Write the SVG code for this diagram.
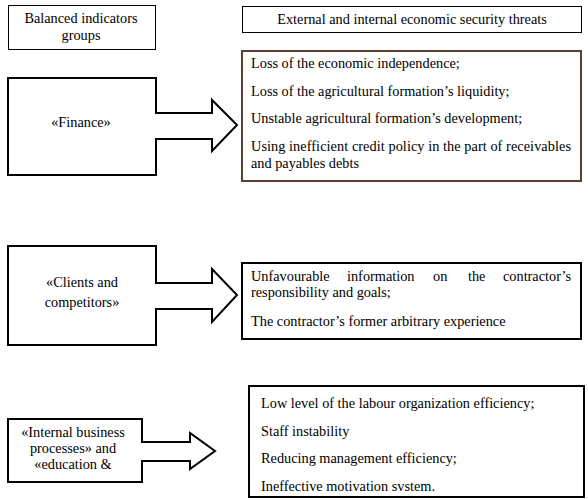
<svg xmlns="http://www.w3.org/2000/svg" width="588" height="500" viewBox="0 0 588 500">
<style>
text{font-family:"Liberation Serif","Times New Roman",serif;font-size:14.3px;fill:#000}
.c{text-anchor:middle}
.e{text-anchor:end}
.thin{fill:#fff;stroke:#000;stroke-width:1}
.thick{fill:#fff;stroke:#000;stroke-width:2}
.arrow{fill:#fff;stroke:#000;stroke-width:2;stroke-linejoin:miter}
</style>
<rect width="588" height="500" fill="#fff"/>
<g id="header-left">
<rect class="thin" x="8.5" y="5.5" width="147" height="44"/>
<text class="c" x="81" y="23">Balanced indicators</text>
<text class="c" x="81" y="40">groups</text>
</g>
<g id="header-right">
<rect class="thin" x="242.5" y="6.5" width="339" height="26"/>
<text class="c" x="412" y="24">External and internal economic security threats</text>
</g>
<g id="finance">
<polygon class="arrow" points="8,78 156,78 156,113 212,113 212,100 237,125 212,151 212,139 156,139 156,175 8,175"/>
<text class="c" x="81" y="127">«Finance»</text>
</g>
<g id="finance-threats">
<rect x="242" y="51" width="339" height="130" fill="#fff" stroke="#5c4033" stroke-width="2"/>
<text x="251" y="68">Loss of the economic independence;</text>
<text x="251" y="96">Loss of the agricultural formation’s liquidity;</text>
<text x="251" y="123">Unstable agricultural formation’s development;</text>
<text x="251" y="151" textLength="320" lengthAdjust="spacing">Using inefficient credit policy in the part of receivables</text>
<text x="251" y="168">and payables debts</text>
</g>
<g id="clients">
<polygon class="arrow" points="8,246 156,246 156,283 212,283 212,269 237,295 212,322 212,309 156,309 156,345 8,345"/>
<text class="c" x="82" y="287">«Clients and</text>
<text class="c" x="82" y="307">competitors»</text>
</g>
<g id="clients-threats">
<rect class="thick" x="242" y="263" width="339" height="76"/>
<text y="281" x="251">Unfavourable</text>
<text y="281" x="347">information</text>
<text y="281" x="433">on</text>
<text y="281" x="468">the</text>
<text y="281" x="571" class="e">contractor’s</text>
<text x="251" y="297">responsibility and goals;</text>
<text x="251" y="326">The contractor’s former arbitrary experience</text>
</g>
<g id="internal">
<polygon class="arrow" points="8,419 142,419 142,442 190,442 190,433 215,451 190,469 190,461 142,461 142,482 8,482"/>
<text class="c" x="73" y="437">«Internal business</text>
<text class="c" x="73" y="453">processes» and</text>
<text class="c" x="73" y="469">«education &amp;</text>
</g>
<g id="internal-threats">
<rect class="thick" x="249" y="386" width="335" height="111"/>
<text x="261" y="408">Low level of the labour organization efficiency;</text>
<text x="261" y="436">Staff instability</text>
<text x="261" y="463">Reducing management efficiency;</text>
<text x="261" y="491">Ineffective motivation svstem.</text>
</g>
<g id="connectors"></g>
</svg>
